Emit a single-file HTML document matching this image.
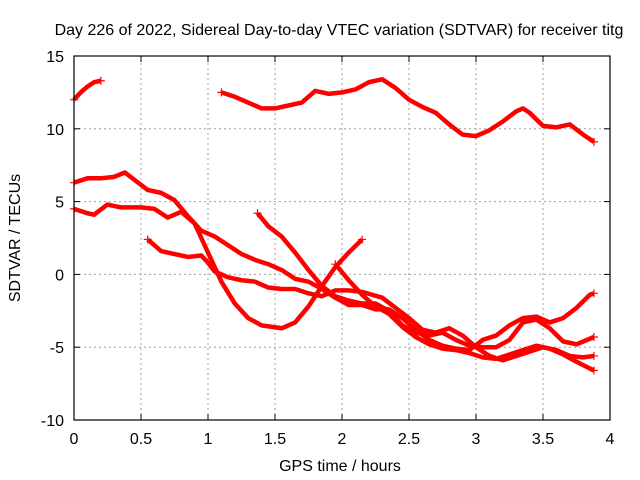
<!DOCTYPE html>
<html><head><meta charset="utf-8"><style>
body{margin:0;background:#fff}
svg{display:block;font-family:"Liberation Sans",sans-serif}
</style></head><body>
<svg id="chart" width="640" height="480">
<text x="339" y="35" font-size="16" text-anchor="middle">Day 226 of 2022, Sidereal Day-to-day VTEC variation (SDTVAR) for receiver titg</text>
<text x="340" y="471" font-size="16" text-anchor="middle">GPS time / hours</text>
<text transform="translate(20,238) rotate(-90)" font-size="16" text-anchor="middle">SDTVAR / TECUs</text>
<g id="grid"></g><g id="series"></g>
<rect x="74" y="56" width="536" height="364" fill="none" stroke="#000" stroke-width="1.2"/>
</svg>
<script>
const xTicks=[0,0.5,1,1.5,2,2.5,3,3.5,4];
const xTickLabels=["0","0.5","1","1.5","2","2.5","3","3.5","4"];
const yTicks=[-10,-5,0,5,10,15];
const yTickLabels=["-10","-5","0","5","10","15"];
const sA=[[0,12.0],[0.05,12.5],[0.1,12.9],[0.15,13.2],[0.2,13.3]];
const sB=[[1.1,12.5],[1.2,12.2],[1.3,11.8],[1.4,11.4],[1.5,11.4],[1.6,11.6],[1.7,11.8],[1.8,12.6],[1.9,12.4],[2.0,12.5],[2.1,12.7],[2.2,13.2],[2.3,13.4],[2.4,12.8],[2.5,12.0],[2.6,11.5],[2.7,11.1],[2.8,10.3],[2.9,9.6],[3.0,9.5],[3.1,9.9],[3.2,10.5],[3.3,11.2],[3.35,11.4],[3.4,11.1],[3.5,10.2],[3.6,10.1],[3.7,10.3],[3.8,9.6],[3.88,9.1]];
const sC=[[0,6.3],[0.1,6.6],[0.2,6.6],[0.3,6.7],[0.38,7.0],[0.45,6.5],[0.55,5.8],[0.65,5.6],[0.75,5.1],[0.85,4.0],[0.95,3.0],[1.05,2.6],[1.15,2.0],[1.25,1.4],[1.35,1.0],[1.45,0.7],[1.55,0.3],[1.65,-0.3],[1.75,-0.5],[1.85,-1.0],[1.95,-1.6],[2.05,-2.1],[2.15,-2.1],[2.25,-2.4],[2.35,-2.4],[2.45,-3.0],[2.55,-3.8],[2.65,-4.5],[2.75,-4.9],[2.85,-5.1],[2.95,-5.2],[3.05,-4.5],[3.15,-4.2],[3.25,-3.5],[3.35,-3.0],[3.45,-2.9],[3.55,-3.3],[3.65,-3.0],[3.75,-2.3],[3.85,-1.4],[3.88,-1.3]];
const sD=[[0,4.5],[0.1,4.2],[0.15,4.1],[0.25,4.8],[0.35,4.6],[0.5,4.6],[0.6,4.5],[0.7,3.9],[0.8,4.3],[0.9,3.5],[1.0,1.5],[1.1,-0.5],[1.2,-2.0],[1.3,-3.0],[1.4,-3.5],[1.55,-3.7],[1.65,-3.3],[1.75,-2.2],[1.85,-0.8],[1.95,0.5],[2.05,1.5],[2.15,2.4]];
const sE=[[0.55,2.4],[0.65,1.6],[0.75,1.4],[0.85,1.2],[0.95,1.3],[1.0,0.8],[1.05,0.2],[1.15,-0.2],[1.25,-0.4],[1.35,-0.5],[1.45,-0.9],[1.55,-1.0],[1.65,-1.0],[1.75,-1.3],[1.85,-1.5],[1.95,-1.1],[2.05,-1.1],[2.15,-1.2],[2.3,-1.6],[2.4,-2.3],[2.5,-3.0],[2.6,-3.8],[2.7,-4.0],[2.8,-3.7],[2.9,-4.2],[3.0,-5.0],[3.1,-5.6],[3.2,-5.9],[3.3,-5.6],[3.4,-5.3],[3.5,-5.0],[3.6,-5.2],[3.7,-5.6],[3.8,-5.7],[3.88,-5.6]];
const sF=[[1.37,4.2],[1.45,3.3],[1.55,2.6],[1.65,1.5],[1.75,0.3],[1.85,-0.8],[1.95,-1.5],[2.05,-1.8],[2.15,-2.0],[2.25,-2.0],[2.35,-2.5],[2.45,-3.5],[2.55,-4.0],[2.65,-4.2],[2.75,-4.0],[2.85,-4.5],[2.95,-4.9],[3.05,-5.0],[3.15,-5.0],[3.25,-4.5],[3.35,-3.3],[3.45,-3.1],[3.55,-3.7],[3.65,-4.6],[3.75,-4.8],[3.88,-4.3]];
const sG=[[1.95,0.7],[2.05,-0.4],[2.15,-1.4],[2.25,-2.2],[2.35,-2.7],[2.45,-3.6],[2.55,-4.3],[2.65,-4.8],[2.75,-5.1],[2.85,-5.2],[2.95,-5.4],[3.05,-5.7],[3.15,-5.8],[3.25,-5.5],[3.35,-5.2],[3.45,-4.9],[3.55,-5.1],[3.65,-5.5],[3.75,-6.0],[3.88,-6.6]];
const allSeries=[sA,sB,sC,sD,sE,sF,sG];
const seriesNames=["series-a","series-b","series-c","series-d","series-e","series-f","series-g"];
const NS="http://www.w3.org/2000/svg";
const X0=74,X1=610,Y0=420,Y1=56,XMIN=0,XMAX=4,YMIN=-10,YMAX=15;
function xs(v){return X0+(v-XMIN)/(XMAX-XMIN)*(X1-X0);}
function ys(v){return Y0-(v-YMIN)/(YMAX-YMIN)*(Y0-Y1);}
const grid=document.getElementById('grid');
function mk(tag,attrs,parent){const e=document.createElementNS(NS,tag);for(const k in attrs)e.setAttribute(k,attrs[k]);parent.appendChild(e);return e;}
xTicks.forEach((t,i)=>{
  const x=xs(t);
  if(i>0&&i<xTicks.length-1){const g=mk('line',{x1:x,x2:x,y1:Y0,y2:Y1,stroke:'#a0a0a0','stroke-dasharray':'2,3'},grid);
  
  }
  mk('line',{x1:x,x2:x,y1:Y0,y2:Y0-6,stroke:'#000'},grid);
  mk('line',{x1:x,x2:x,y1:Y1,y2:Y1+6,stroke:'#000'},grid);
  const l=mk('text',{x:x,y:Y0+24,'font-size':16,'text-anchor':'middle'},grid);
  l.textContent=xTickLabels[i];
  
  
});
yTicks.forEach((t,i)=>{
  const y=ys(t);
  if(i>0&&i<yTicks.length-1){const g=mk('line',{x1:X0,x2:X1,y1:y,y2:y,stroke:'#a0a0a0','stroke-dasharray':'2,3'},grid);
  
  }
  mk('line',{x1:X0,x2:X0+6,y1:y,y2:y,stroke:'#000'},grid);
  mk('line',{x1:X1,x2:X1-6,y1:y,y2:y,stroke:'#000'},grid);
  const l=mk('text',{x:X0-10,y:y+6,'font-size':16,'text-anchor':'end'},grid);
  l.textContent=yTickLabels[i];
  
  
});
const sg=document.getElementById('series');
allSeries.forEach((s,i)=>{
  const p=mk('polyline',{points:s.map(d=>xs(d[0])+','+ys(d[1])).join(' '),fill:'none',stroke:'#f00','stroke-width':4.5,'stroke-linejoin':'round'},sg);
  
  
  [s[0],s[s.length-1]].forEach(d=>{
    const x=xs(d[0]),y=ys(d[1]);
    mk('path',{d:`M${x-4},${y}H${x+4}M${x},${y-4}V${y+4}`,stroke:'#f00','stroke-width':1.2},sg);
  });
});
</script>
</body></html>
